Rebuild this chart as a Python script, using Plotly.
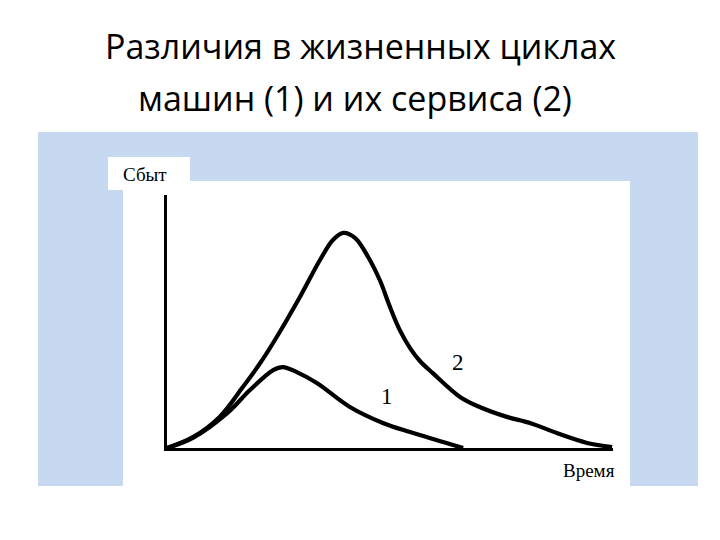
import plotly.graph_objects as go

# Data (time, sales)
time_1 = [0, 0.58, 1.35, 1.86, 2.38, 2.60, 2.91, 3.36, 4.10, 4.84, 5.45, 6.19, 6.64]
sales_1 = [0, 0.40, 1.38, 2.29, 3.08, 3.20, 3.00, 2.57, 1.62, 0.99, 0.63, 0.24, 0]

time_2 = [0, 0.58, 1.18, 1.70, 2.09, 2.42, 2.98, 3.43, 3.72, 3.95, 4.22, 4.51, 4.78,
          5.00, 5.22, 5.45, 5.67, 5.96, 6.57, 7.01, 7.62, 8.14, 8.74, 9.42, 9.98]
sales_2 = [0, 0.43, 1.23, 2.41, 3.36, 4.27, 5.97, 7.43, 8.22, 8.50, 8.30, 7.55, 6.60,
           5.57, 4.66, 3.95, 3.44, 2.96, 2.02, 1.62, 1.23, 0.99, 0.59, 0.20, 0.04]

title_lines = ["Различия в жизненных циклах", "машин (1) и их сервиса (2)"]
y_label = "Сбыт"
x_label = "Время"
curve_labels = ["1", "2"]

OFF = 8  # default page margin of the html body
W, H = 720 - 2 * OFF, 540 - 2 * OFF
L, R, T, B = 167, 613, 195, 448  # plot area in page pixels


def px(x):
    return (x - L) / (R - L)


def py(y):
    return (B - y) / (B - T)


fig = go.Figure()
for t, s in [(time_1, sales_1), (time_2, sales_2)]:
    fig.add_trace(go.Scatter(x=t, y=s, mode="lines",
                             line=dict(color="black", width=4.2, shape="spline", smoothing=1.0),
                             hoverinfo="skip", showlegend=False))

blue = "#c6d9f0"
shapes = [
    dict(type="rect", xref="paper", yref="paper", x0=px(38), x1=px(698), y0=py(486), y1=py(132),
         fillcolor=blue, line=dict(width=0), layer="below"),
    dict(type="rect", xref="paper", yref="paper", x0=px(123), x1=px(630), y0=py(486), y1=py(181),
         fillcolor="white", line=dict(width=0), layer="below"),
    dict(type="rect", xref="paper", yref="paper", x0=px(108), x1=px(190), y0=py(190), y1=py(157),
         fillcolor="white", line=dict(width=0), layer="below"),
]

title_font = dict(family="Open Sans", size=34, color="black")
serif = "Liberation Serif"
annotations = [
    dict(text=title_lines[0], xref="paper", yref="paper", x=px(360), y=py(46), showarrow=False,
         font=title_font, xanchor="center", yanchor="middle"),
    dict(text=title_lines[1], xref="paper", yref="paper", x=px(355), y=py(98), showarrow=False,
         font=title_font, xanchor="center", yanchor="middle"),
    dict(text=y_label, xref="paper", yref="paper", x=px(145), y=py(174), showarrow=False,
         font=dict(family=serif, size=19, color="black"), xanchor="center", yanchor="middle"),
    dict(text=x_label, xref="paper", yref="paper", x=px(589), y=py(470), showarrow=False,
         font=dict(family=serif, size=19, color="black"), xanchor="center", yanchor="middle"),
    dict(text=curve_labels[0], x=4.93, y=2.02, showarrow=False,
         font=dict(family=serif, size=23, color="black"), xanchor="center", yanchor="middle"),
    dict(text=curve_labels[1], x=6.52, y=3.36, showarrow=False,
         font=dict(family=serif, size=23, color="black"), xanchor="center", yanchor="middle"),
]

fig.update_layout(
    width=W, height=H,
    margin=dict(l=L - OFF, r=W - (R - OFF), t=T - OFF, b=H - (B - OFF), pad=0),
    paper_bgcolor="white", plot_bgcolor="rgba(0,0,0,0)",
    shapes=shapes, annotations=annotations,
    xaxis=dict(range=[0, 10], showline=True, linecolor="black", linewidth=3, showgrid=False,
               zeroline=False, showticklabels=False, ticks=""),
    yaxis=dict(range=[0, 10], showline=True, linecolor="black", linewidth=3, showgrid=False,
               zeroline=False, showticklabels=False, ticks=""),
)

fig.write_html("out.html")
